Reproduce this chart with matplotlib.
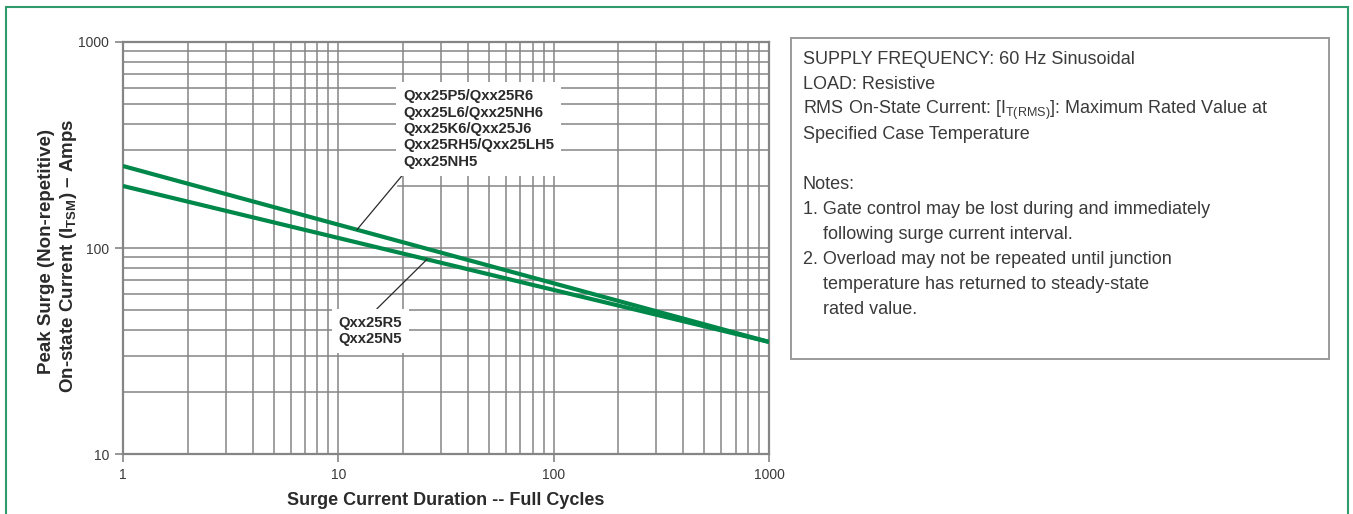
import numpy as np
import matplotlib
matplotlib.use("Agg")
import matplotlib.pyplot as plt
from matplotlib.patches import Rectangle
from matplotlib.ticker import FixedLocator, NullFormatter

# ========================= DADOS =========================
cycles = [1, 1000]
itsm_upper = [250, 35]    # Qxx25P5/... curva superior
itsm_lower = [200, 35]    # Qxx25R5 / Qxx25N5

label_upper = "Qxx25P5/Qxx25R6\nQxx25L6/Qxx25NH6\nQxx25K6/Qxx25J6\nQxx25RH5/Qxx25LH5\nQxx25NH5"
label_lower = "Qxx25R5\nQxx25N5"

x_ticks = [1, 10, 100, 1000]
y_ticks = [10, 100, 1000]
x_minor = [m * d for d in (1, 10, 100) for m in range(2, 10)]
y_minor = [m * d for d in (10, 100) for m in range(2, 10) if m * d != 200]

notes = [
    "SUPPLY FREQUENCY: 60 Hz Sinusoidal",
    "LOAD: Resistive",
    r"RMS On-State Current: [I$_{\mathregular{T(RMS)}}$]: Maximum Rated Value at",
    "Specified Case Temperature",
    "",
    "Notes:",
    "1. Gate control may be lost during and immediately",
    "    following surge current interval.",
    "2. Overload may not be repeated until junction",
    "    temperature has returned to steady-state",
    "    rated value.",
]

# ========================= ESTILO =========================
plt.rcParams["font.family"] = ["Liberation Sans", "DejaVu Sans"]
plt.rcParams["mathtext.fontset"] = "custom"
plt.rcParams["mathtext.rm"] = "Liberation Sans"
plt.rcParams["mathtext.bf"] = "Liberation Sans:bold"
GREEN = "#00874a"
GRID = "#858585"
TXT = "#2a2a2a"
W, H = 1353, 514

fig = plt.figure(figsize=(W / 100, H / 100), dpi=100)
ax = fig.add_axes([123 / W, 60 / H, (769 - 123) / W, (454 - 42) / H])
ax.set_xscale("log")
ax.set_yscale("log")
ax.set_xlim(1, 1000)
ax.set_ylim(10, 1000)

ax.xaxis.set_major_locator(FixedLocator(x_ticks))
ax.yaxis.set_major_locator(FixedLocator(y_ticks))
ax.xaxis.set_minor_locator(FixedLocator(x_minor))
ax.yaxis.set_minor_locator(FixedLocator(y_minor))
ax.xaxis.set_minor_formatter(NullFormatter())
ax.yaxis.set_minor_formatter(NullFormatter())
ax.set_xticklabels([str(v) for v in x_ticks])
ax.set_yticklabels([str(v) for v in y_ticks])
ax.tick_params(which="major", length=6, width=1.2, color=GRID, labelsize=10,
               labelcolor="#3a3a3a", pad=4)
ax.tick_params(which="minor", length=0)

ax.grid(True, which="both", color=GRID, linewidth=1.1)
# linha de 200 só aparece a partir da caixa do rótulo
x0_200 = np.log10(19) / 3
ax.axhline(200, xmin=x0_200, xmax=1, color=GRID, linewidth=1.1, zorder=0.5)
for s in ax.spines.values():
    s.set_color(GRID)
    s.set_linewidth(1.6)

ax.plot(cycles, itsm_upper, color=GREEN, linewidth=3.0, solid_capstyle="butt", zorder=3)
ax.plot(cycles, itsm_lower, color=GREEN, linewidth=3.0, solid_capstyle="butt", zorder=3)


def on_line(xv, xs, ys):
    return 10 ** np.interp(np.log10(xv), np.log10(xs), np.log10(ys))


ax.annotate(label_upper, xy=(12.2, on_line(12.2, cycles, itsm_upper)),
            xytext=(20, 590), textcoords="data", ha="left", va="top",
            fontsize=10.75, fontweight="bold", color=TXT, linespacing=1.22,
            bbox=dict(boxstyle="square,pad=0.45", fc="white", ec="none"),
            arrowprops=dict(arrowstyle="-", color=TXT, lw=0.9,
                            relpos=(0.03, 0.0), shrinkA=0, shrinkB=0),
            zorder=4)
ax.annotate(label_lower, xy=(25.8, on_line(25.8, cycles, itsm_lower)),
            xytext=(10, 47), textcoords="data", ha="left", va="top",
            fontsize=10.75, fontweight="bold", color=TXT, linespacing=1.22,
            bbox=dict(boxstyle="square,pad=0.45", fc="white", ec="none"),
            arrowprops=dict(arrowstyle="-", color=TXT, lw=0.9,
                            relpos=(0.5, 1.0), shrinkA=0, shrinkB=0),
            zorder=4)

ax.set_xlabel("Surge Current Duration -- Full Cycles", fontsize=13,
              fontweight="bold", color=TXT, labelpad=7)
fig.text(47 / W, 1 - 251 / H, "Peak Surge (Non-repetitive)", rotation=90,
         ha="center", va="center", fontsize=13.5, fontweight="bold", color=TXT)
fig.text(69 / W, 1 - 256 / H, r"On-state Current (I$_{\mathregular{TSM}}$) – Amps",
         rotation=90, ha="center", va="center", fontsize=13.5, fontweight="bold",
         color=TXT)

# caixa de notas
fig.add_artist(Rectangle((791 / W, 1 - 359 / H), (1329 - 791) / W, (359 - 38) / H,
                         transform=fig.transFigure, fill=False, ec="#9a9a9a", lw=1.4))
y_base = 64
for i, line in enumerate(notes):
    if line:
        fig.text(803 / W, 1 - (y_base + 25.0 * i) / H, line, ha="left",
                 va="baseline", fontsize=13, color="#3a3a3a")

# moldura verde
fig.add_artist(Rectangle((6 / W, -0.05), (1348 - 6) / W, 1.05 - 7 / H,
                         transform=fig.transFigure, fill=False, ec="#2f9a6b", lw=1.5))

fig.savefig("out.png", dpi=100)
